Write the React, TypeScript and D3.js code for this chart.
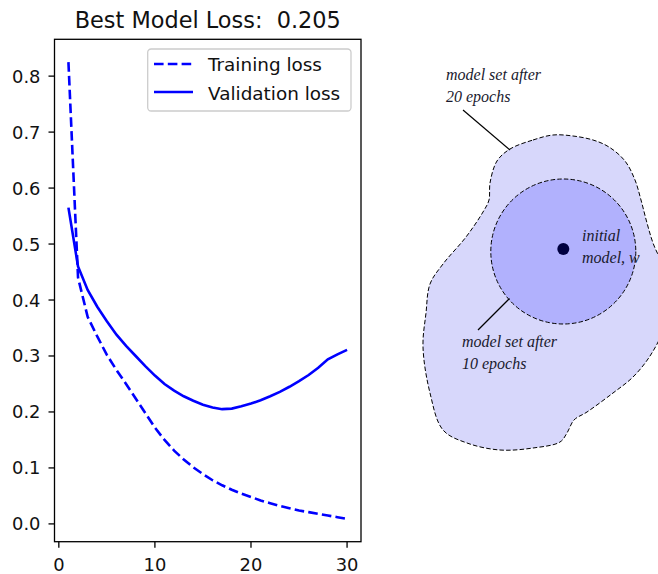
import React from "react";
import * as d3 from "d3";

const width = 658;
const height = 574;
const frame = { left: 54.5, right: 361, top: 39.3, bottom: 541.7 }; // axes box in px

// loss per epoch
const epochs = [
  1, 2, 3, 4, 5, 6, 7, 8, 9, 10, 11, 12, 13, 14, 15, 16, 17, 18, 19, 20, 21,
  22, 23, 24, 25, 26, 27, 28, 29, 30,
];
const trainingLoss = [
  0.825, 0.44, 0.37, 0.335, 0.302, 0.275, 0.25, 0.224, 0.198, 0.172, 0.15,
  0.131, 0.115, 0.101, 0.089, 0.078, 0.069, 0.061, 0.054, 0.048, 0.042, 0.037,
  0.032, 0.028, 0.024, 0.021, 0.018, 0.015, 0.012, 0.009,
];
const validationLoss = [
  0.565, 0.46, 0.418, 0.388, 0.362, 0.338, 0.318, 0.3, 0.282, 0.265, 0.25,
  0.238, 0.228, 0.22, 0.213, 0.208, 0.205, 0.206, 0.21, 0.215, 0.221, 0.228,
  0.236, 0.245, 0.255, 0.266, 0.279, 0.294, 0.303, 0.311,
];
const xTicks = [0, 10, 20, 30];
const yTicks = [0.0, 0.1, 0.2, 0.3, 0.4, 0.5, 0.6, 0.7, 0.8];
const titleText = "Best Model Loss:  0.205";
const legendLabels = ["Training loss", "Validation loss"];

// right-hand sketch: outline of the 20-epoch region, 10-epoch circle
const outerRegion: [number, number][] = [
  [510, 149], [533, 140], [553, 135], [573, 136], [593, 140], [609, 147],
  [625, 161], [635, 180], [641, 200], [647, 223], [653, 243], [662, 265],
  [667, 300], [663, 330], [650, 356], [633, 377], [613, 393], [587, 412],
  [574, 420], [567, 433], [560, 442], [533, 448], [500, 450], [467, 443],
  [443, 430], [430, 393], [423, 347], [426, 313], [430, 284], [443, 264],
  [466, 237], [483, 212], [489, 200], [490, 183], [497, 161],
];
const innerRegion = { cx: 563.3, cy: 251.5, r: 72.5 };
const initialModel = { cx: 563.3, cy: 249, r: 6 };
const notes = [
  { lines: ["model set after", "20 epochs"], x: 446, y: 80 },
  { lines: ["initial", "model, w"], x: 582, y: 241 },
  { lines: ["model set after", "10 epochs"], x: 462, y: 347 },
];
const pointers: [number, number, number, number][] = [
  [463, 110, 510, 150],
  [478, 330, 509.5, 298.5],
];

const mplFont = "'DejaVu Sans', sans-serif";
const sketchFont = "'Liberation Serif', 'DejaVu Serif', serif";

const App = () => {
  const allLoss = trainingLoss.concat(validationLoss);
  const xExt = d3.extent(epochs) as [number, number];
  const yExt = d3.extent(allLoss) as [number, number];
  const xPad = (xExt[1] - xExt[0]) * 0.05;
  const yPad = (yExt[1] - yExt[0]) * 0.05;

  const x = d3
    .scaleLinear()
    .domain([xExt[0] - xPad, xExt[1] + xPad])
    .range([frame.left, frame.right]);
  const y = d3
    .scaleLinear()
    .domain([yExt[0] - yPad, yExt[1] + yPad])
    .range([frame.bottom, frame.top]);

  const line = d3
    .line<number>()
    .x((_, i) => x(epochs[i]))
    .y((d) => y(d));

  const blob = d3.line().curve(d3.curveCatmullRomClosed.alpha(0.5));

  return (
    <svg
      width={width}
      height={height}
      style={{ position: "absolute", left: 0, top: 0, background: "#fff" }}
    >
      {/* loss plot */}
      <text
        x={(frame.left + frame.right) / 2}
        y={28}
        textAnchor="middle"
        fontFamily={mplFont}
        fontSize={22.4}
        fill="#111"
        style={{ whiteSpace: "pre" }}
      >
        {titleText}
      </text>
      <path
        d={line(trainingLoss) || ""}
        fill="none"
        stroke="#0000ff"
        strokeWidth={2.6}
        strokeDasharray="9.6,4.2"
      />
      <path
        d={line(validationLoss) || ""}
        fill="none"
        stroke="#0000ff"
        strokeWidth={2.6}
      />
      <rect
        x={frame.left}
        y={frame.top}
        width={frame.right - frame.left}
        height={frame.bottom - frame.top}
        fill="none"
        stroke="#000"
        strokeWidth={1.3}
      />
      {yTicks.map((t) => (
        <g key={"y" + t}>
          <line
            x1={frame.left - 6}
            x2={frame.left}
            y1={y(t)}
            y2={y(t)}
            stroke="#000"
            strokeWidth={1.3}
          />
          <text
            x={40.5}
            y={y(t) + 6.5}
            textAnchor="end"
            fontFamily={mplFont}
            fontSize={17.9}
            fill="#111"
          >
            {t.toFixed(1)}
          </text>
        </g>
      ))}
      {xTicks.map((t) => (
        <g key={"x" + t}>
          <line
            x1={x(t)}
            x2={x(t)}
            y1={frame.bottom}
            y2={frame.bottom + 6}
            stroke="#000"
            strokeWidth={1.3}
          />
          <text
            x={x(t)}
            y={570.5}
            textAnchor="middle"
            fontFamily={mplFont}
            fontSize={17.9}
            fill="#111"
          >
            {t}
          </text>
        </g>
      ))}
      <rect
        x={147.7}
        y={49}
        width={203.3}
        height={62}
        rx={3.5}
        fill="#fff"
        fillOpacity={0.8}
        stroke="#cccccc"
        strokeWidth={1.3}
      />
      {legendLabels.map((label, i) => (
        <g key={label}>
          <line
            x1={154}
            x2={193}
            y1={64 + i * 28}
            y2={64 + i * 28}
            stroke="#0000ff"
            strokeWidth={2.6}
            strokeDasharray={i === 0 ? "9.6,4.2" : undefined}
          />
          <text
            x={208}
            y={71 + i * 28.5}
            fontFamily={mplFont}
            fontSize={18.4}
            fill="#111"
          >
            {label}
          </text>
        </g>
      ))}

      {/* sketch of model sets */}
      <path
        d={blob(outerRegion) || ""}
        fill="#d7d7fb"
        stroke="#000"
        strokeWidth={1}
        strokeDasharray="4.5,2.2"
      />
      <circle
        cx={innerRegion.cx}
        cy={innerRegion.cy}
        r={innerRegion.r}
        fill="#b1b1fd"
        stroke="#000"
        strokeWidth={1}
        strokeDasharray="4.5,2.2"
      />
      <circle
        cx={initialModel.cx}
        cy={initialModel.cy}
        r={initialModel.r}
        fill="#000040"
      />
      {pointers.map(([x1, y1, x2, y2], i) => (
        <line
          key={"p" + i}
          x1={x1}
          y1={y1}
          x2={x2}
          y2={y2}
          stroke="#000"
          strokeWidth={1.2}
        />
      ))}
      {notes.map((n, i) => (
        <text
          key={"n" + i}
          fontFamily={sketchFont}
          fontStyle="italic"
          fontSize={16}
          fill="#1a1a2e"
        >
          {n.lines.map((l, j) => (
            <tspan key={j} x={n.x} y={n.y + j * 22}>
              {l}
            </tspan>
          ))}
        </text>
      ))}
    </svg>
  );
};

export default App;
